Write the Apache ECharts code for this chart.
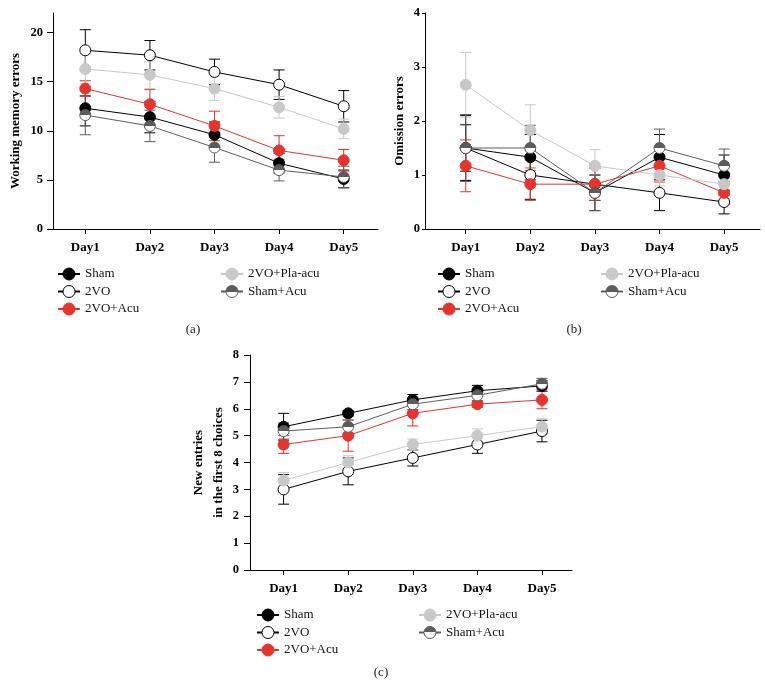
<!DOCTYPE html>
<html>
<head>
<meta charset="utf-8">
<script src="https://cdn.jsdelivr.net/npm/echarts@6/dist/echarts.min.js"></script>
<style>html,body{margin:0;padding:0;background:#fff}#c{width:765px;height:699px}</style>
</head>
<body>
<div id="c"></div>
<script>
// ---------- data ----------
const days = ['Day1', 'Day2', 'Day3', 'Day4', 'Day5'];
const groupNames = ['Sham', '2VO', '2VO+Acu', '2VO+Pla-acu', 'Sham+Acu'];

const yTicksA = [0, 5, 10, 15, 20];
const yTicksB = [0, 1, 2, 3, 4];
const yTicksC = [0, 1, 2, 3, 4, 5, 6, 7, 8];

// (a) Working memory errors
const wmSham = [12.3, 11.4, 9.6, 6.7, 5.1];
const wmShamErr = [1.8, 1.6, 1.3, 1.0, 0.9];
const wmVO = [18.2, 17.7, 16.0, 14.7, 12.5];
const wmVOErr = [2.1, 1.5, 1.3, 1.5, 1.6];
const wmAcu = [14.3, 12.7, 10.5, 8.0, 7.0];
const wmAcuErr = [0.8, 1.5, 1.5, 1.5, 1.1];
const wmPla = [16.3, 15.7, 14.3, 12.4, 10.2];
const wmPlaErr = [1.5, 1.4, 1.2, 1.1, 1.0];
const wmShamAcu = [11.6, 10.5, 8.3, 6.0, 5.3];
const wmShamAcuErr = [2.0, 1.6, 1.5, 1.1, 1.1];

// (b) Omission errors
const omSham = [1.5, 1.33, 0.67, 1.33, 1.0];
const omShamErr = [0.43, 0.42, 0.33, 0.42, 0.37];
const omVO = [1.5, 1.0, 0.83, 0.67, 0.5];
const omVOErr = [0.6, 0.45, 0.3, 0.33, 0.22];
const omAcu = [1.17, 0.83, 0.83, 1.17, 0.67];
const omAcuErr = [0.48, 0.3, 0.3, 0.3, 0.21];
const omPla = [2.67, 1.83, 1.17, 1.0, 0.83];
const omPlaErr = [0.6, 0.47, 0.3, 0.2, 0.2];
const omShamAcu = [1.5, 1.5, 0.67, 1.5, 1.17];
const omShamAcuErr = [0.62, 0.42, 0.33, 0.35, 0.31];

// (c) New entries in the first 8 choices
const neSham = [5.33, 5.83, 6.33, 6.67, 6.85];
const neShamErr = [0.5, 0.1, 0.2, 0.2, 0.2];
const neVO = [3.0, 3.67, 4.17, 4.67, 5.17];
const neVOErr = [0.55, 0.5, 0.3, 0.33, 0.4];
const neAcu = [4.67, 5.0, 5.83, 6.17, 6.33];
const neAcuErr = [0.33, 0.58, 0.47, 0.12, 0.33];
const nePla = [3.33, 4.0, 4.67, 5.0, 5.33];
const nePlaErr = [0.3, 0.25, 0.2, 0.25, 0.3];
const neShamAcu = [5.17, 5.33, 6.17, 6.5, 6.93];
const neShamAcuErr = [0.3, 0.25, 0.2, 0.2, 0.2];

// ---------- styles ----------
const SERIF = '"Liberation Serif", "DejaVu Serif", serif';
const GREY_DARK = '#5c5c5c';
const halfFill = {
  type: 'linear', x: 0, y: 0, x2: 0, y2: 1,
  colorStops: [
    { offset: 0, color: GREY_DARK }, { offset: 0.5, color: GREY_DARK },
    { offset: 0.5, color: '#ffffff' }, { offset: 1, color: '#ffffff' }
  ]
};
const groupStyle = [
  { fill: '#000000', border: '#000000', line: '#000000' },
  { fill: '#ffffff', border: '#000000', line: '#000000' },
  { fill: '#e5332e', border: '#e5332e', line: '#e5332e' },
  { fill: '#c8c8c8', border: '#c8c8c8', line: '#c8c8c8' },
  { fill: halfFill, border: GREY_DARK, line: GREY_DARK }
];

const panels = [
  { name: 'Working memory errors', max: 22, ticks: yTicksA,
    means: [wmSham, wmVO, wmAcu, wmPla, wmShamAcu],
    errs: [wmShamErr, wmVOErr, wmAcuErr, wmPlaErr, wmShamAcuErr],
    grid: { left: 53, top: 13, width: 325, height: 216 }, xmin: -0.5,
    nameGap: 27, labelMargin: 10, tickLen: 6 },
  { name: 'Omission errors', max: 4, ticks: yTicksB,
    means: [omSham, omVO, omAcu, omPla, omShamAcu],
    errs: [omShamErr, omVOErr, omAcuErr, omPlaErr, omShamAcuErr],
    grid: { left: 425, top: 13, width: 335, height: 216 }, xmin: -0.63,
    nameGap: 13, labelMargin: 5, tickLen: 3 },
  { name: 'New entries\nin the first 8 choices', max: 8, ticks: yTicksC,
    means: [neSham, neVO, neAcu, nePla, neShamAcu],
    errs: [neShamErr, neVOErr, neAcuErr, nePlaErr, neShamAcuErr],
    grid: { left: 250, top: 355, width: 322, height: 215 }, xmin: -0.52,
    nameGap: 21, labelMargin: 11, tickLen: 6 }
];
const PX_PER_DAY = 64.6;
const dayIdx = days.map((d, i) => i);

const grids = [], xAxes = [], yAxes = [], series = [];
panels.forEach((p, pi) => {
  grids.push(Object.assign({ containLabel: false }, p.grid));
  xAxes.push({
    type: 'value', gridIndex: pi, min: p.xmin, max: p.xmin + p.grid.width / PX_PER_DAY,
    axisLine: { show: true, onZero: false, lineStyle: { color: '#000', width: 1 } },
    axisTick: { show: true, customValues: dayIdx, length: 5, lineStyle: { color: '#000' } },
    axisLabel: { customValues: dayIdx, formatter: v => days[Math.round(v)], margin: 12,
      fontFamily: SERIF, fontWeight: 'bold', fontSize: 13, color: '#000' },
    splitLine: { show: false }
  });
  yAxes.push({
    type: 'value', gridIndex: pi, min: 0, max: p.max,
    name: p.name, nameLocation: 'middle', nameGap: p.nameGap,
    nameTextStyle: { fontFamily: SERIF, fontWeight: 'bold', fontSize: 13, color: '#000', lineHeight: 20 },
    axisLine: { show: true, onZero: false, lineStyle: { color: '#000', width: 1 } },
    axisTick: { show: true, customValues: p.ticks, length: p.tickLen, lineStyle: { color: '#000' } },
    axisLabel: { customValues: p.ticks, margin: p.labelMargin,
      fontFamily: SERIF, fontWeight: 'bold', fontSize: 12.5, color: '#000' },
    splitLine: { show: false }
  });
  groupNames.forEach((g, gi) => {
    const st = groupStyle[gi];
    series.push({
      type: 'custom', name: 'err-' + pi + '-' + g, xAxisIndex: pi, yAxisIndex: pi,
      silent: true, z: 1, encode: { x: 0, y: 1 },
      data: p.means[gi].map((v, k) => [k, v, p.errs[gi][k]]),
      renderItem: (params, api) => {
        const x = api.value(0), y = api.value(1), e = api.value(2);
        const hi = api.coord([x, y + e]), lo = api.coord([x, y - e]);
        const w = 5.5, s = { stroke: st.line, lineWidth: 1 };
        return { type: 'group', children: [
          { type: 'line', shape: { x1: hi[0], y1: hi[1], x2: lo[0], y2: lo[1] }, style: s },
          { type: 'line', shape: { x1: hi[0] - w, y1: hi[1], x2: hi[0] + w, y2: hi[1] }, style: s },
          { type: 'line', shape: { x1: lo[0] - w, y1: lo[1], x2: lo[0] + w, y2: lo[1] }, style: s }
        ] };
      }
    });
  });
  groupNames.forEach((g, gi) => {
    const st = groupStyle[gi];
    series.push({
      type: 'line', name: g, xAxisIndex: pi, yAxisIndex: pi, z: 2 + gi,
      data: p.means[gi].map((v, k) => [k, v]),
      symbol: 'circle', symbolSize: 11, showSymbol: true,
      itemStyle: { color: st.fill, borderColor: st.border, borderWidth: 1 },
      lineStyle: { color: st.line, width: 1 },
      emphasis: { disabled: true }, animation: false
    });
  });
});

function legendAt(left, top, names) {
  return {
    orient: 'vertical', left: left, top: top, data: names,
    itemWidth: 22, itemHeight: 15, itemGap: 4.5, selectedMode: false,
    itemStyle: { borderWidth: 1 },
    textStyle: { fontFamily: SERIF, fontSize: 13, color: '#111' }
  };
}
const leftNames = groupNames.slice(0, 3), rightNames = groupNames.slice(3);
const legends = [
  legendAt(52, 262.5, leftNames), legendAt(215, 262.5, rightNames),
  legendAt(432, 262.5, leftNames), legendAt(595, 262.5, rightNames),
  legendAt(251, 603.5, leftNames), legendAt(413, 603.5, rightNames)
];

const captions = [['(a)', 193, 330], ['(b)', 574, 330], ['(c)', 381, 673]];

const chart = echarts.init(document.getElementById('c'), null, { renderer: 'canvas' });
chart.setOption({
  animation: false,
  backgroundColor: '#fff',
  grid: grids, xAxis: xAxes, yAxis: yAxes, series: series, legend: legends,
  graphic: captions.map(c => ({
    type: 'text', x: c[1], y: c[2], silent: true,
    style: { text: c[0], textAlign: 'center', textVerticalAlign: 'middle',
      font: '13px ' + SERIF, fill: '#222' }
  }))
});
</script>
</body>
</html>
